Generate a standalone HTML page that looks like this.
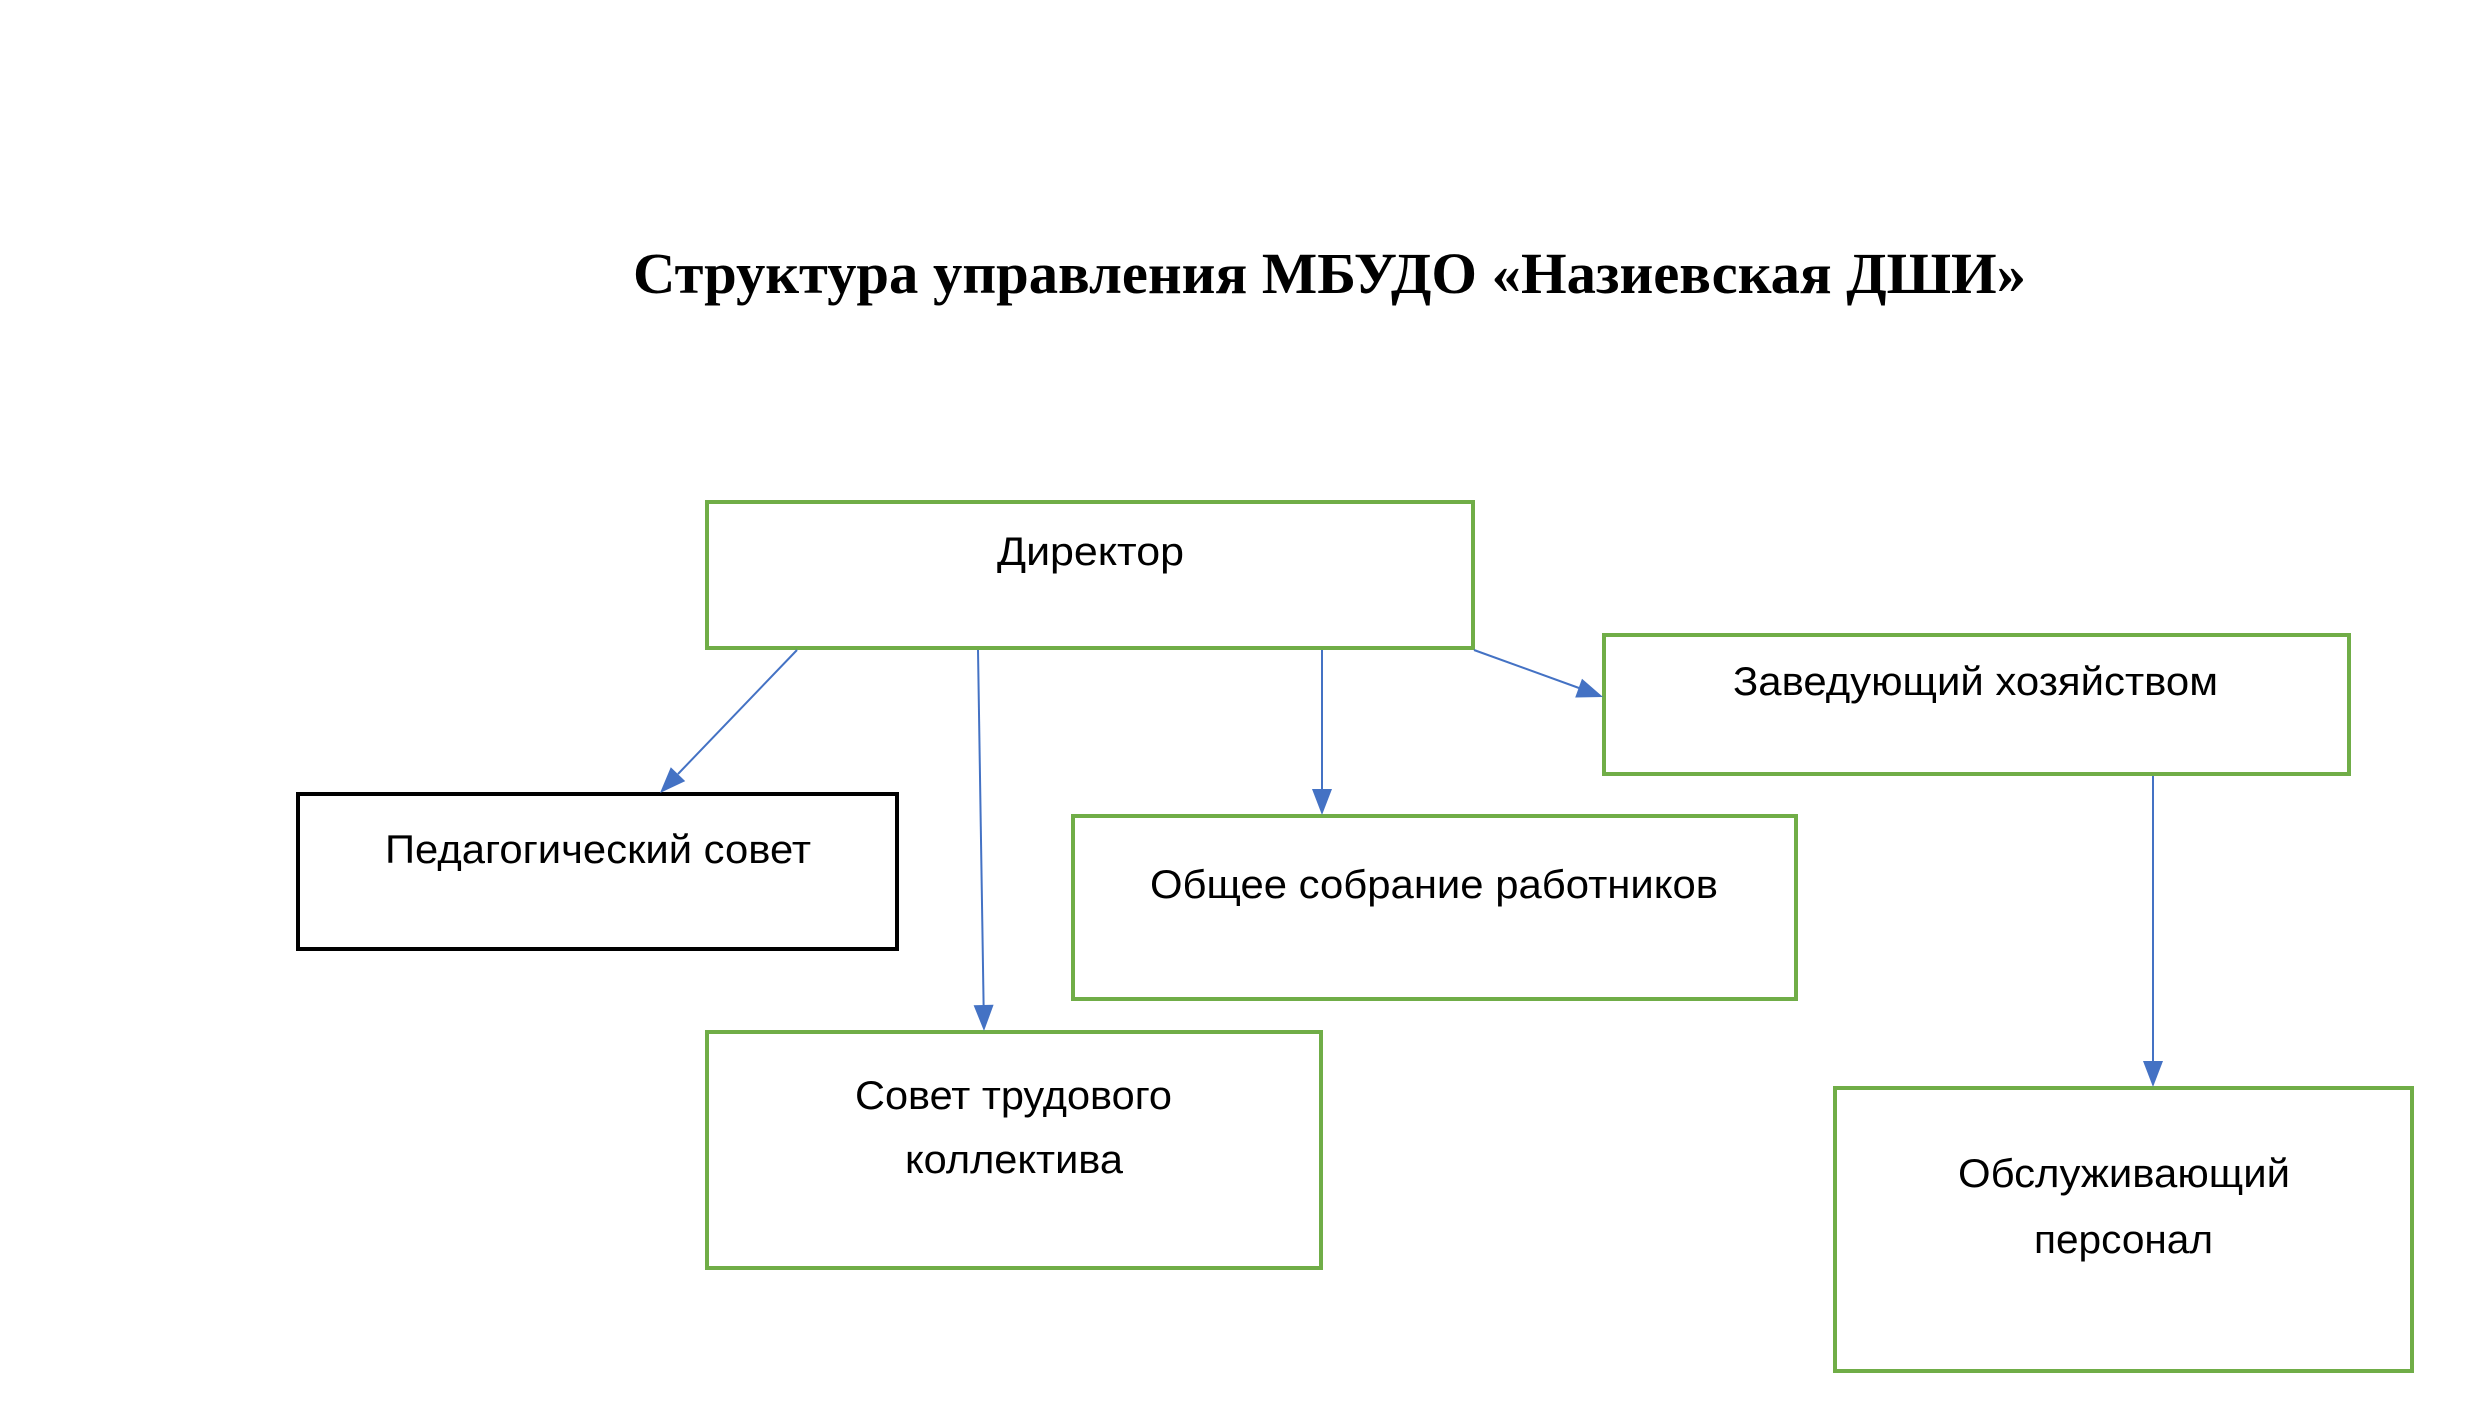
<!DOCTYPE html>
<html>
<head>
<meta charset="utf-8">
<style>
html,body{margin:0;padding:0;background:#fff;}
svg{display:block;}
.t{font-family:"Liberation Sans","DejaVu Sans",sans-serif;font-size:40px;fill:#000;}
.h{font-family:"Liberation Serif","DejaVu Serif",serif;font-size:58px;font-weight:bold;fill:#000;}
</style>
</head>
<body>
<svg width="2480" height="1420" viewBox="0 0 2480 1420" xmlns="http://www.w3.org/2000/svg">
<rect x="0" y="0" width="2480" height="1420" fill="#fff"/>

<text class="h" x="633" y="293" textLength="1393" lengthAdjust="spacingAndGlyphs">Структура управления МБУДО «Назиевская ДШИ»</text>

<!-- boxes -->
<g fill="none" stroke-width="4">
<rect x="707" y="502" width="766" height="146" stroke="#70AD47"/>
<rect x="1604" y="635" width="745" height="139" stroke="#70AD47"/>
<rect x="298" y="794" width="599" height="155" stroke="#000"/>
<rect x="1073" y="816" width="723" height="183" stroke="#70AD47"/>
<rect x="707" y="1032" width="614" height="236" stroke="#70AD47"/>
<rect x="1835" y="1088" width="577" height="283" stroke="#70AD47"/>
</g>

<!-- connectors -->
<g stroke="#4472C4" stroke-width="2" fill="none">
<line x1="797" y1="650" x2="678" y2="774"/>
<line x1="978" y1="650" x2="983.6" y2="1005"/>
<line x1="1322" y1="650" x2="1322" y2="789"/>
<line x1="1474" y1="650" x2="1579" y2="688"/>
<line x1="2153" y1="776" x2="2153" y2="1061"/>
</g>
<g fill="#4472C4">
<polygon points="660,793 685.2,781.1 670.8,767.3"/>
<polygon points="984,1031 993.6,1004.8 973.6,1005.2"/>
<polygon points="1322,815 1332,789 1312,789"/>
<polygon points="1603,697 1575.2,697.5 1582,678.7"/>
<polygon points="2153,1087 2163,1061 2143,1061"/>
</g>

<!-- labels -->
<text class="t" x="997" y="565" textLength="187" lengthAdjust="spacingAndGlyphs">Директор</text>
<text class="t" x="1733" y="695" textLength="485" lengthAdjust="spacingAndGlyphs">Заведующий хозяйством</text>
<text class="t" x="385" y="863" textLength="426" lengthAdjust="spacingAndGlyphs">Педагогический совет</text>
<text class="t" x="1150" y="898" textLength="568" lengthAdjust="spacingAndGlyphs">Общее собрание работников</text>
<text class="t" x="855" y="1109" textLength="317" lengthAdjust="spacingAndGlyphs">Совет трудового</text>
<text class="t" x="905" y="1173" textLength="218" lengthAdjust="spacingAndGlyphs">коллектива</text>
<text class="t" x="1958" y="1187" textLength="332" lengthAdjust="spacingAndGlyphs">Обслуживающий</text>
<text class="t" x="2034" y="1253" textLength="179" lengthAdjust="spacingAndGlyphs">персонал</text>
</svg>
</body>
</html>
